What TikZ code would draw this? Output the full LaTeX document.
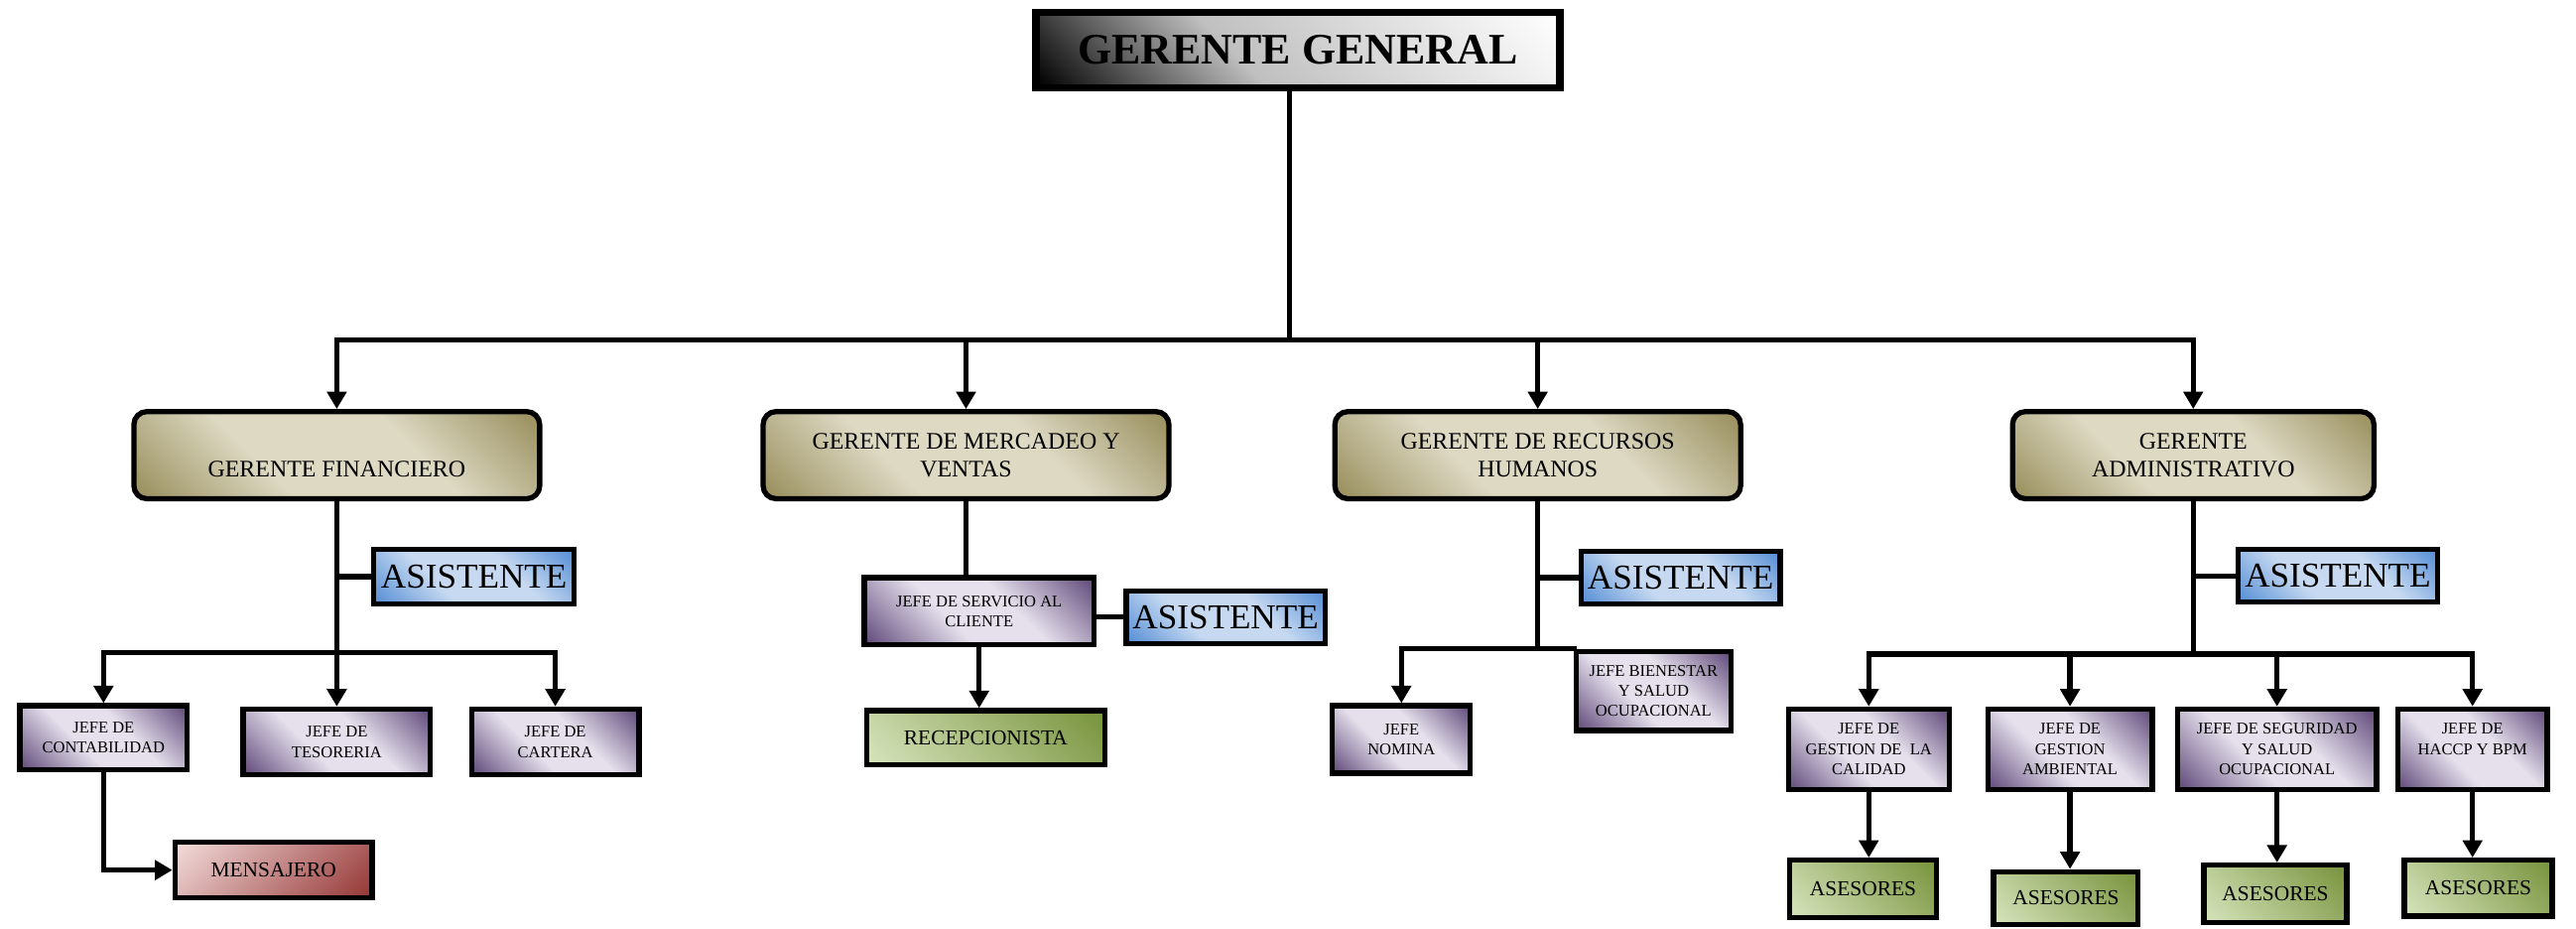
\documentclass[tikz,border=0pt]{standalone}
\usepackage{fontspec}
\setmainfont{Liberation Serif}
\usetikzlibrary{arrows.meta}

% 塗りの色 (O: 濃い, C: 淡い)
\definecolor{caquiO}{RGB}{152,142,92}
\definecolor{caquiC}{RGB}{221,217,195}
\definecolor{lilaO}{RGB}{96,73,122}
\definecolor{lilaC}{RGB}{229,224,236}
\definecolor{azulO}{RGB}{85,142,213}
\definecolor{azulC}{RGB}{198,217,241}
\definecolor{verdeO}{RGB}{119,147,60}
\definecolor{verdeC}{RGB}{215,228,189}
\definecolor{rojoO}{RGB}{149,55,53}
\definecolor{rojoC}{RGB}{242,220,219}

% 斜めグラデーション (15bp-85bp が箱の対角に当たる)
\pgfdeclarehorizontalshading{plata}{100bp}{color(0bp)=(black); color(15bp)=(black); color(42bp)=(black!25); color(85bp)=(white); color(100bp)=(white)}
\pgfdeclarehorizontalshading{caqui}{100bp}{color(0bp)=(caquiO); color(15bp)=(caquiO); color(38bp)=(caquiC); color(62bp)=(caquiC); color(85bp)=(caquiO); color(100bp)=(caquiO)}
\pgfdeclarehorizontalshading{lila}{100bp}{color(0bp)=(lilaO); color(15bp)=(lilaO); color(41bp)=(lilaC); color(59bp)=(lilaC); color(85bp)=(lilaO); color(100bp)=(lilaO)}
\pgfdeclarehorizontalshading{azul}{100bp}{color(0bp)=(azulO); color(15bp)=(azulO); color(38bp)=(azulC); color(62bp)=(azulC); color(85bp)=(azulO); color(100bp)=(azulO)}
\pgfdeclarehorizontalshading{verde}{100bp}{color(0bp)=(verdeC); color(15bp)=(verdeC); color(85bp)=(verdeO); color(100bp)=(verdeO)}
\pgfdeclarehorizontalshading{rojo}{100bp}{color(0bp)=(rojoC); color(15bp)=(rojoC); color(85bp)=(rojoO); color(100bp)=(rojoO)}

\begin{document}
\begin{tikzpicture}[x=0.16556mm, y=0.16556mm,
  every node/.style={align=center, inner sep=0pt},
  tam/.style 2 args={minimum width=#1*0.16556mm, minimum height=#2*0.16556mm},
  caja/.style={draw, line width=1.5pt, shading angle=45},
  general/.style={caja, line width=2.2pt, shading=plata, font=\fontsize{12.5}{15}\selectfont\bfseries},
  gerente/.style={caja, rounded corners=1.3mm, shading=caqui, font=\fontsize{6.8}{8.1}\selectfont},
  asistente/.style={caja, shading=azul, font=\fontsize{10}{12}\selectfont},
  jefe/.style={caja, shading=lila, font=\fontsize{4.7}{5.8}\selectfont},
  asesor/.style={caja, shading=verde, font=\fontsize{6.1}{7.3}\selectfont},
  mensajero/.style={caja, shading=rojo, shading angle=-45, font=\fontsize{6.1}{7.3}\selectfont},
  linea/.style={line width=1.5pt, line cap=rect},
  flecha/.style={linea, -{Triangle[width=5.5pt, length=5pt]}}]
  \useasboundingbox (0,0) rectangle (1568,565);
  % 最上位と第2階層
  \node[general, tam={319}{46}] (gg) at (790,534.5) {GERENTE GENERAL};
  \node[gerente, tam={247}{53}] (gf) at (205,288) {\vphantom{G}\\GERENTE FINANCIERO};
  \node[gerente, tam={247}{53}] (gm) at (588,288) {GERENTE DE MERCADEO Y\\VENTAS};
  \node[gerente, tam={247}{53}] (gr) at (936,288) {GERENTE DE RECURSOS\\HUMANOS};
  \node[gerente, tam={220}{53}] (ga) at (1335,288) {GERENTE\\ADMINISTRATIVO};
  \coordinate (b0) at (785,358);
  \draw[linea] (b0 |- gg.south) -- (b0);
  \draw[linea] (gf.north |- b0) -- (ga.north |- b0);
  \foreach \g in {gf,gm,gr,ga}
    \draw[flecha] (\g.north |- b0) -- (\g);

  % 財務
  \coordinate (bf) at (205,168);
  \node[asistente, tam={122}{33}] (af) at (288.5,214) {ASISTENTE};
  \node[jefe, tam={102}{39}] (jc) at (63,116) {JEFE DE\\CONTABILIDAD};
  \node[jefe, tam={114}{40}] (jt) at (205,113.5) {JEFE DE\\TESORERIA};
  \node[jefe, tam={102}{40}] (jca) at (338,113.5) {JEFE DE\\CARTERA};
  \node[mensajero, tam={120}{34}] (me) at (166.5,35.5) {MENSAJERO};
  \draw[linea] (gf) -- (bf);
  \draw[linea] (af) -- (af -| bf);
  \draw[linea] (jc.north |- bf) -- (jca.north |- bf);
  \foreach \j in {jc,jt,jca}
    \draw[flecha] (\j.north |- bf) -- (\j);
  \draw[flecha] (jc) |- (me);

  % マーケティング・営業
  \node[jefe, tam={140}{41}] (js) at (596,193) {JEFE DE SERVICIO AL\\CLIENTE};
  \node[asistente, tam={121}{32}] (am) at (746,189.5) {ASISTENTE};
  \node[asesor, tam={145}{33}] (re) at (600,116) {RECEPCIONISTA};
  \draw[linea] (gm) -- (gm |- js.north);
  \draw[linea] (am) -- (am -| js.east);
  \draw[flecha] (js) -- (js |- re.north);

  % 人事
  \node[asistente, tam={121}{32}] (ar) at (1023,213.5) {ASISTENTE};
  \node[jefe, tam={94}{48}] (jb) at (1006.5,144.5) {JEFE BIENESTAR\\Y SALUD\\OCUPACIONAL};
  \node[jefe, tam={84}{41}] (jn) at (853,115) {JEFE\\NOMINA};
  \draw[linea] (gr) -- (gr |- jb.north);
  \draw[linea] (ar) -- (ar -| gr);
  \draw[flecha] (jb.north west) -| (jn);

  % 管理
  \coordinate (ba) at (1335,167);
  \node[asistente, tam={121}{32}] (aa) at (1423,214.5) {ASISTENTE};
  \node[jefe, tam={98}{49}] (jq) at (1137.5,109) {JEFE DE\\GESTION DE\ \ LA\\CALIDAD};
  \node[jefe, tam={100}{49}] (jam) at (1260,109) {JEFE DE\\GESTION\\AMBIENTAL};
  \node[jefe, tam={121}{49}] (jss) at (1386,109) {JEFE DE SEGURIDAD\\Y SALUD\\OCUPACIONAL};
  \node[jefe, tam={91}{49}] (jh) at (1505,109) {JEFE DE\\HACCP Y BPM\\\mbox{}};
  \node[asesor, tam={89}{35}] (s1) at (1134,24) {ASESORES};
  \node[asesor, tam={88}{32}] (s2) at (1257.5,18.5) {ASESORES};
  \node[asesor, tam={87}{35}] (s3) at (1385,21) {ASESORES};
  \node[asesor, tam={90}{34}] (s4) at (1508.5,24.5) {ASESORES};
  \draw[linea] (ga) -- (ba);
  \draw[linea] (aa) -- (aa -| ba);
  \draw[linea] (jq.north |- ba) -- (jh.north |- ba);
  \foreach \j/\s in {jq/s1,jam/s2,jss/s3,jh/s4} {
    \draw[flecha] (\j.north |- ba) -- (\j);
    \draw[flecha] (\j) -- (\j |- \s.north);
  }
\end{tikzpicture}
\end{document}
